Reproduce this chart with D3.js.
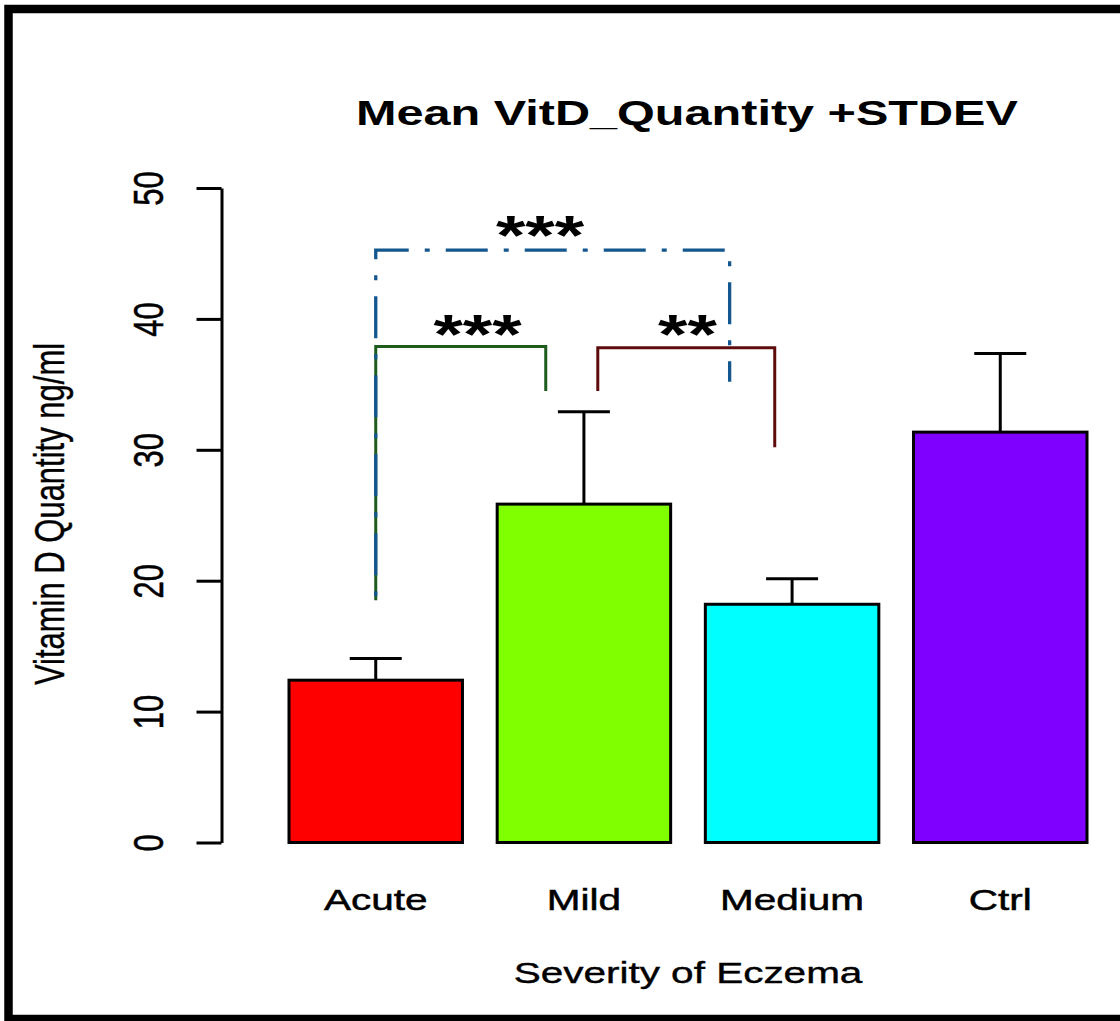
<!DOCTYPE html>
<html>
<head>
<meta charset="utf-8">
<script src="https://cdn.jsdelivr.net/npm/d3@7"></script>
<style>
  html, body { margin: 0; padding: 0; background: #fff; }
  svg { display: block; }
  text { font-family: "Liberation Sans", Arial, Helvetica, sans-serif; fill: #000; }
</style>
</head>
<body>
<div id="chart"></div>
<script>
const categories = ["Acute", "Mild", "Medium", "Ctrl"];
const means = [12.4, 25.85, 18.2, 31.35];
const sds = [1.65, 7.05, 1.95, 6.0];
const yTicks = [0, 10, 20, 30, 40, 50];
const barFills = ["#FF0000", "#80FF00", "#00FFFF", "#8000FF"];

// significance brackets, x in barplot units (bar i is centred at 0.7 + 1.2 * i)
const bracketX1 = [0.7, 1.98, 0.7];
const bracketX2 = [1.68, 3.0, 2.74];
const bracketTop = [37.9, 37.8, 45.25];
const bracketLeftEnd = [18.5, 34.5, 18.5];
const bracketRightEnd = [34.5, 30.2, 35.2];
const starLabels = ["***", "**", "***"];
const starX = [1.287, 2.497, 1.647];
const starY = [39.84, 39.84, 47.4];
const bracketColors = ["#1d5c1d", "#5e0b0b", "#14578f"];

const width = 1120;
const height = 1021;
const SX = 1.35; // the picture is stretched horizontally
const font = 30;

const svg = d3
  .select("#chart")
  .append("svg")
  .attr("width", width)
  .attr("height", height);

svg.append("rect").attr("width", width).attr("height", height).attr("fill", "#fff");

// outer frame (right edge falls outside the picture)
svg
  .append("rect")
  .attr("x", 8.5)
  .attr("y", 9)
  .attr("width", 1200)
  .attr("height", 1010)
  .attr("fill", "none")
  .attr("stroke", "#000")
  .attr("stroke-width", 8.5);

const x = d3.scaleLinear().domain([0.2, 4.8]).range([289, 1087]);
const y = d3.scaleLinear().domain([0, 50]).range([842.5, 188]);
const centre = (i) => 0.7 + 1.2 * i;

// y axis
const yAxis = svg
  .append("g")
  .attr("transform", "translate(221.5,0)")
  .call(d3.axisLeft(y).tickValues(yTicks).tickSize(25).tickSizeOuter(0).tickFormat(d3.format("d")));

yAxis.select(".domain").attr("stroke", "#000").attr("stroke-width", 3);
yAxis.selectAll(".tick line").attr("stroke", "#000").attr("stroke-width", 3);
yAxis
  .selectAll(".tick text")
  .attr("x", null)
  .attr("dy", null)
  .attr("text-anchor", "middle")
  .attr("font-size", 31)
  .attr("stroke", "#000")
  .attr("stroke-width", 0.4)
  .attr("transform", `translate(-59,0) scale(${SX},1) rotate(-90)`);

// bars
svg
  .selectAll(".bar")
  .data(means)
  .join("rect")
  .attr("class", "bar")
  .attr("x", (d, i) => x(centre(i) - 0.5))
  .attr("y", (d) => y(d))
  .attr("width", (d, i) => x(centre(i) + 0.5) - x(centre(i) - 0.5))
  .attr("height", (d) => y(0) - y(d))
  .attr("fill", (d, i) => barFills[i])
  .attr("stroke", "#000")
  .attr("stroke-width", 3);

// error bars (upper only)
const errs = svg.append("g").attr("stroke", "#000").attr("stroke-width", 3);
errs
  .selectAll(".err")
  .data(means)
  .join("line")
  .attr("x1", (d, i) => x(centre(i)))
  .attr("x2", (d, i) => x(centre(i)))
  .attr("y1", (d) => y(d))
  .attr("y2", (d, i) => y(d + sds[i]));
errs
  .selectAll(".cap")
  .data(means)
  .join("line")
  .attr("x1", (d, i) => x(centre(i)) - 26)
  .attr("x2", (d, i) => x(centre(i)) + 26)
  .attr("y1", (d, i) => y(d + sds[i]))
  .attr("y2", (d, i) => y(d + sds[i]));

// significance brackets
const line = d3.line();
bracketX1.forEach((x1, i) => {
  const pts = [
    [x(x1), y(bracketLeftEnd[i])],
    [x(x1), y(bracketTop[i])],
    [x(bracketX2[i]), y(bracketTop[i])],
    [x(bracketX2[i]), y(bracketRightEnd[i])],
  ];
  const path = svg
    .append("path")
    .attr("d", line(pts))
    .attr("fill", "none")
    .attr("stroke", bracketColors[i])
    .attr("stroke-width", i === 2 ? 3.3 : 3)
    .attr("stroke-linejoin", "miter");
  if (i === 2) {
    const corner = y(bracketLeftEnd[i]) - y(bracketTop[i]);
    path.attr("stroke-dasharray", "42 16 5 16").attr("stroke-dashoffset", 9 - corner);
  }
});

svg
  .selectAll(".stars")
  .data(starLabels)
  .join("text")
  .attr("class", "stars")
  .attr("text-anchor", "middle")
  .attr("font-size", 56)
  .attr("font-weight", "bold")
  .attr("transform", (d, i) => `translate(${x(starX[i])},${y(starY[i]) + 32}) scale(${SX},1)`)
  .text((d) => d);

// category labels
svg
  .selectAll(".cat")
  .data(categories)
  .join("text")
  .attr("class", "cat")
  .attr("text-anchor", "middle")
  .attr("font-size", font)
  .attr("stroke", "#000")
  .attr("stroke-width", 0.5)
  .attr("transform", (d, i) => `translate(${x(centre(i))},910) scale(${SX},1)`)
  .text((d) => d);

// title and axis titles
svg
  .append("text")
  .attr("text-anchor", "middle")
  .attr("font-size", 36)
  .attr("font-weight", "bold")
  .attr("transform", `translate(687,125) scale(${SX},1)`)
  .text("Mean VitD_Quantity +STDEV");

svg
  .append("text")
  .attr("text-anchor", "middle")
  .attr("font-size", font)
  .attr("stroke", "#000")
  .attr("stroke-width", 0.4)
  .attr("transform", `translate(688,983) scale(${SX},1)`)
  .text("Severity of Eczema");

svg
  .append("text")
  .attr("text-anchor", "middle")
  .attr("font-size", 31)
  .attr("stroke", "#000")
  .attr("stroke-width", 0.3)
  .attr("transform", `translate(63.5,514) scale(${SX},1) rotate(-90)`)
  .text("Vitamin D Quantity ng/ml");
</script>
</body>
</html>
